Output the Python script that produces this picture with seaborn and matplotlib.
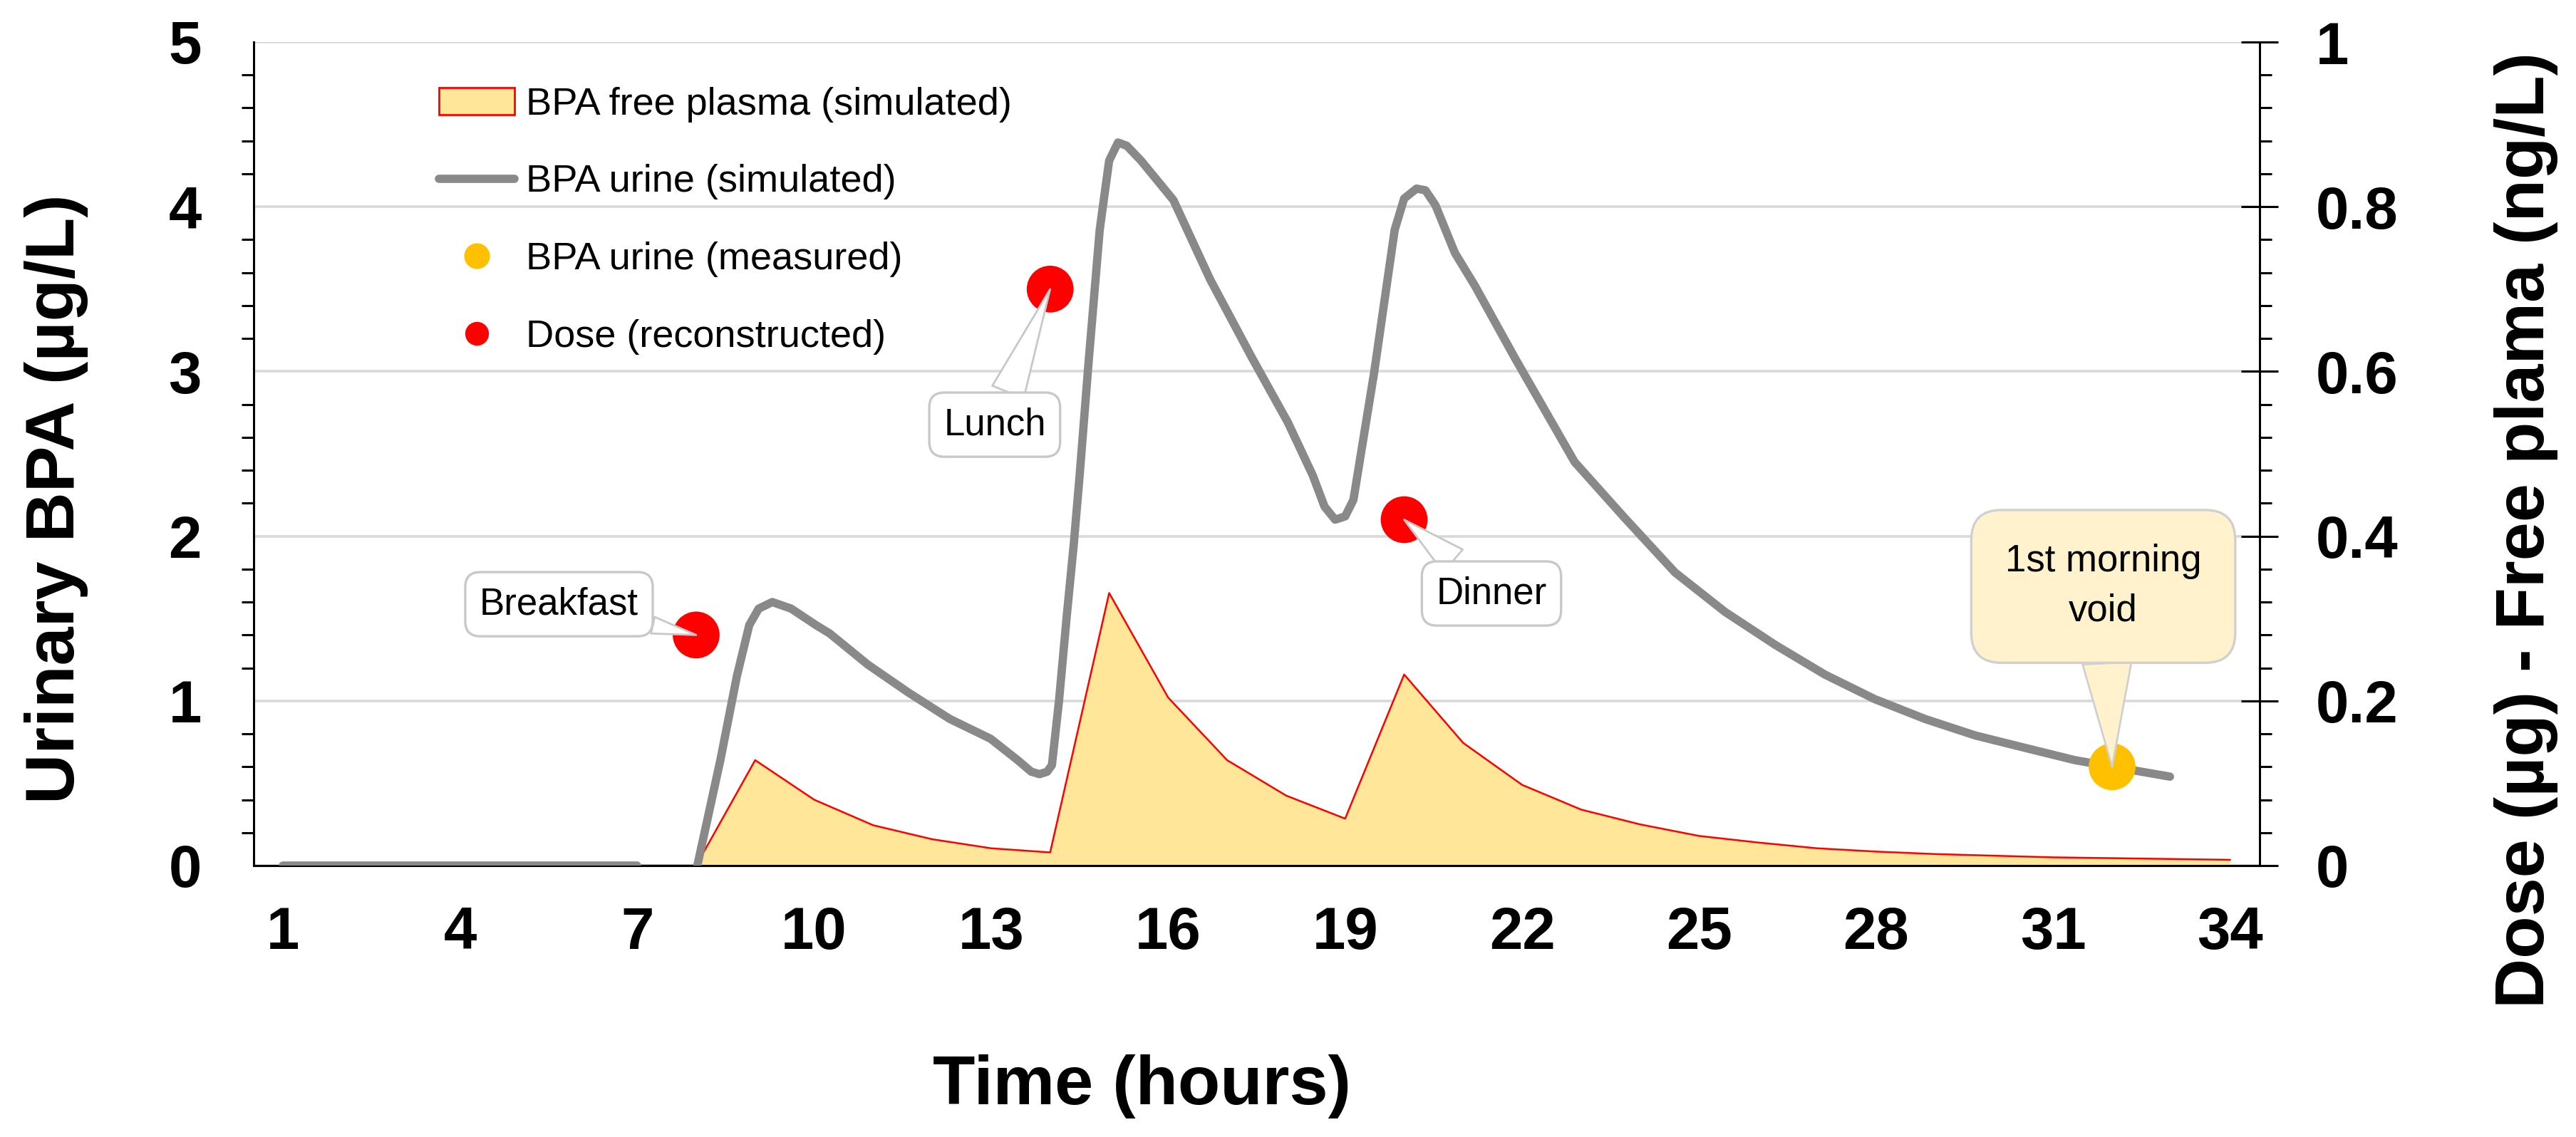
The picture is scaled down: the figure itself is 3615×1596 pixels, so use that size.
import matplotlib
matplotlib.use("Agg")
import matplotlib.pyplot as plt
from matplotlib.patches import Patch
from matplotlib.lines import Line2D
from matplotlib.ticker import MultipleLocator, FixedLocator, FuncFormatter
import pandas as pd
import seaborn as sns

# ---------------- data ----------------
hours = list(range(1, 35))
plasma_free = [0, 0, 0, 0, 0, 0, 0, 0,
               0.128, 0.080, 0.049, 0.032, 0.021, 0.016,
               0.331, 0.204, 0.128, 0.085, 0.057,
               0.232, 0.149, 0.098, 0.068, 0.050, 0.036, 0.028, 0.021,
               0.017, 0.014, 0.012, 0.010, 0.009, 0.008, 0.007]

urine_pre_t = [1, 7]
urine_pre_v = [0.0, 0.0]

urine_t = [8.02, 8.41, 8.69, 8.9, 9.06, 9.29, 9.61, 10.03, 10.26, 10.91,
           11.6, 12.3, 12.99, 13.45, 13.68, 13.82, 13.95, 14.03, 14.15,
           14.28, 14.4, 14.5, 14.65, 14.84, 15.0, 15.15, 15.3, 15.54,
           16.09, 16.71, 17.41, 18.03, 18.45, 18.65, 18.83, 19.0, 19.14,
           19.49, 19.84, 20.0, 20.21, 20.36, 20.53, 20.86, 21.2, 21.88,
           22.89, 23.74, 24.59, 25.44, 26.29, 27.13, 27.98, 28.83, 29.68,
           30.52, 31.37, 32.98]
urine_v = [0.0, 0.64, 1.15, 1.46, 1.56, 1.60, 1.56, 1.46, 1.41, 1.22,
           1.05, 0.89, 0.77, 0.64, 0.57, 0.555, 0.57, 0.61, 1.00,
           1.51, 1.95, 2.37, 3.05, 3.86, 4.28, 4.39, 4.37, 4.28,
           4.04, 3.56, 3.09, 2.69, 2.37, 2.18, 2.10, 2.12, 2.22,
           2.99, 3.86, 4.05, 4.11, 4.10, 4.01, 3.72, 3.52, 3.08,
           2.45, 2.11, 1.78, 1.54, 1.34, 1.16, 1.01, 0.89, 0.79,
           0.715, 0.64, 0.54]

dose_t = [8, 14, 20]
dose_v = [0.28, 0.70, 0.42]
dose_labels = ["Breakfast", "Lunch", "Dinner"]

measured_t = [32]
measured_v = [0.6]
measured_label = "1st morning\nvoid"

x_ticks = list(range(1, 35, 3))
left_ticks = [0, 1, 2, 3, 4, 5]
right_ticks = [0, 0.2, 0.4, 0.6, 0.8, 1.0]

legend_labels = ["BPA free plasma (simulated)", "BPA urine (simulated)",
                 "BPA urine (measured)", "Dose (reconstructed)"]

# ---------------- style ----------------
sns.set_theme(style="white")
plt.rcParams['font.family'] = ['Liberation Sans', 'DejaVu Sans']
plt.rcParams.update({"text.color": "black", "axes.labelcolor": "black",
                     "xtick.color": "black", "ytick.color": "black"})

W, H, DPI = 3616, 1596, 200
fig = plt.figure(figsize=(W / DPI, H / DPI), dpi=DPI)
L, R, T, B = 356, 3171, 59, 1215
rect = [L / W, 1 - B / H, (R - L) / W, (B - T) / H]
ax2 = fig.add_axes(rect)
ax = fig.add_axes(rect, sharex=ax2)
ax.set_zorder(ax2.get_zorder() + 1)
ax.patch.set_visible(False)
ax2.yaxis.tick_right()
ax2.yaxis.set_label_position("right")

GRAY = "#898989"
YELLOW_FILL = "#FFE699"
RED = "#FF0000"
GOLD = "#FFC000"

# plasma area (right axis)
plasma_df = pd.DataFrame({"t": hours, "v": plasma_free})
ax2.fill_between(plasma_df["t"], 0, plasma_df["v"], color=YELLOW_FILL, lw=0, zorder=2)
sns.lineplot(data=plasma_df, x="t", y="v", ax=ax2, color=RED, lw=0.9,
             estimator=None, sort=False, zorder=3)

# dose points (right axis)
dose_df = pd.DataFrame({"t": dose_t, "v": dose_v})
sns.scatterplot(data=dose_df, x="t", y="v", ax=ax2, color=RED, s=560,
                edgecolor="none", zorder=4)

# urine simulated (left axis)
pre_df = pd.DataFrame({"t": urine_pre_t, "v": urine_pre_v})
uri_df = pd.DataFrame({"t": urine_t, "v": urine_v})
for d in (pre_df, uri_df):
    sns.lineplot(data=d, x="t", y="v", ax=ax, color=GRAY, lw=4.2,
                 estimator=None, sort=False, zorder=3,
                 solid_capstyle="round", solid_joinstyle="round")

# measured urine (left axis)
meas_df = pd.DataFrame({"t": measured_t, "v": measured_v})
sns.scatterplot(data=meas_df, x="t", y="v", ax=ax, color=GOLD, s=560,
                edgecolor="none", zorder=4)

# ---------------- axes ----------------
ax2.set_xlim(0.5, 34.5)
ax.set_ylim(0, 5)
ax2.set_ylim(0, 1)

for a in (ax, ax2):
    a.set_xlabel("")
    a.set_ylabel("")
    for s in a.spines.values():
        s.set_visible(False)

for a, side in ((ax, "left"), (ax, "bottom"), (ax2, "right")):
    a.spines[side].set_visible(True)
    a.spines[side].set_linewidth(1.1)
    a.spines[side].set_color("black")

ax.yaxis.set_major_locator(FixedLocator(left_ticks))
ax.yaxis.set_minor_locator(MultipleLocator(0.2))
ax.yaxis.set_major_formatter(FuncFormatter(lambda v, p: f"{v:g}"))
ax2.yaxis.set_major_locator(FixedLocator(right_ticks))
ax2.yaxis.set_minor_locator(MultipleLocator(0.04))
ax2.yaxis.set_major_formatter(FuncFormatter(lambda v, p: f"{v:g}"))

ax.tick_params(axis="y", which="major", direction="inout", length=18.7, width=1.1,
               color="black", labelcolor="black", labelsize=30, pad=17)
ax.tick_params(axis="y", which="minor", direction="out", length=6, width=1.1,
               color="black", left=True)
ax2.tick_params(axis="y", which="major", direction="inout", length=18.7, width=1.1,
                color="black", labelcolor="black", labelsize=30, pad=19,
                right=True, left=False)
ax2.tick_params(axis="y", which="minor", direction="out", length=6, width=1.1,
                color="black", right=True, left=False)

ax2.set_xticks(x_ticks)
ax2.set_xticklabels([str(v) for v in x_ticks])
ax2.tick_params(axis="x", length=0, labelsize=30, pad=20, labelcolor="black")
ax.tick_params(axis="x", length=0, labelbottom=False)
for lab in ax.get_yticklabels() + ax2.get_yticklabels() + ax2.get_xticklabels():
    lab.set_fontweight("bold")

ax2.grid(False)
ax.grid(False)
ax2.yaxis.grid(True, which="major", color="#D9D9D9", lw=1.3, zorder=0)
ax2.set_axisbelow(True)

# axis titles
fig.text(1603 / W, 1 - 1525 / H, "Time (hours)", ha="center", va="center",
         fontsize=35, fontweight="bold", color="black")
fig.text(79 / W, 1 - 700 / H, "Urinary BPA (µg/L)", ha="center", va="center",
         rotation=90, fontsize=35, fontweight="bold", color="black")
fig.text(3545 / W, 1 - 744 / H, "Dose (µg) - Free plama (ng/L)", ha="center",
         va="center", rotation=90, fontsize=35, fontweight="bold", color="black")

# ---------------- callouts ----------------
box_pos = [(5.675, 1.587), (13.06, 2.677), (21.48, 1.652)]
tails = [0.45, 0.9, 0.8]
for (t, v), lab, pos, tw in zip(zip(dose_t, dose_v), dose_labels, box_pos, tails):
    ax.annotate(lab, xy=(t, v), xycoords=ax2.transData, xytext=pos,
                textcoords="data", ha="center", va="center", fontsize=19,
                color="black",
                bbox=dict(boxstyle="round,pad=0.38,rounding_size=0.4", fc="white",
                          ec="#C8C8C8", lw=1.2),
                arrowprops=dict(arrowstyle=f"wedge,tail_width={tw},shrink_factor=0.5",
                                fc="white", ec="#C8C8C8", lw=1.0,
                                shrinkA=0, shrinkB=0),
                zorder=6)

ax.annotate(measured_label, xy=(measured_t[0], measured_v[0]), xycoords="data",
            xytext=(31.85, 1.695), textcoords="data", ha="center", va="center",
            fontsize=19, linespacing=1.5, color="black",
            bbox=dict(boxstyle="round,pad=0.9,rounding_size=0.8", fc="#FFF2CC",
                      ec="#D0D0D0", lw=1.2),
            arrowprops=dict(arrowstyle="wedge,tail_width=1.3,shrink_factor=0.5",
                            fc="#FFF2CC", ec="#D0D0D0", lw=1.0,
                            shrinkA=0, shrinkB=0),
            zorder=6)

# ---------------- legend ----------------
handles = [
    Patch(facecolor=YELLOW_FILL, edgecolor=RED, lw=1.0),
    Line2D([0], [0], color=GRAY, lw=4.2, solid_capstyle="round"),
    Line2D([0], [0], marker="o", ls="none", markersize=13, markerfacecolor=GOLD,
           markeredgecolor="none"),
    Line2D([0], [0], marker="o", ls="none", markersize=12, markerfacecolor=RED,
           markeredgecolor="none"),
]
leg = ax.legend(handles, legend_labels, loc="upper left",
                bbox_to_anchor=(616 / W, 1 - 122 / H), bbox_transform=fig.transFigure,
                frameon=False, fontsize=19.5, handlelength=1.95, handletextpad=0.3,
                labelspacing=1.08, borderpad=0, borderaxespad=0)
for txt in leg.get_texts():
    txt.set_color("black")
leg.set_zorder(7)

fig.savefig("out.png", dpi=DPI)
